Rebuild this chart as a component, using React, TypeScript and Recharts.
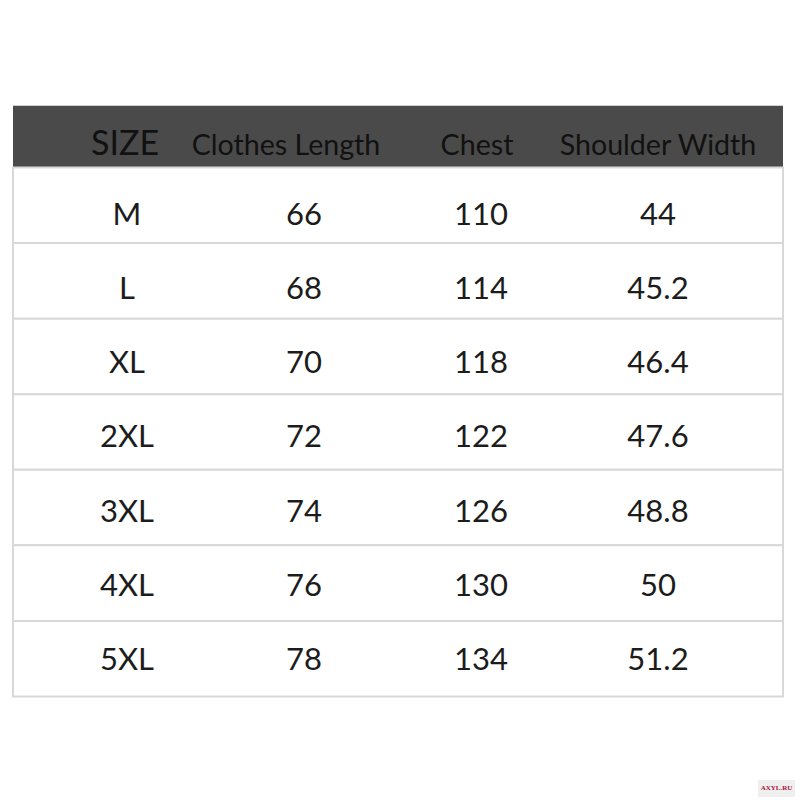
import { ReferenceArea, Scatter, ScatterChart, XAxis, YAxis } from 'recharts'

const headers = ['SIZE', 'Clothes Length', 'Chest', 'Shoulder Width']
const sizes = ['M', 'L', 'XL', '2XL', '3XL', '4XL', '5XL']
const clothesLength = [66, 68, 70, 72, 74, 76, 78]
const chest = [110, 114, 118, 122, 126, 130, 134]
const shoulderWidth = [44, 45.2, 46.4, 47.6, 48.8, 50, 51.2]

// layout in page pixels
const W = 800
const H = 800
const COL0 = 127
const COL_W = 177
const ROW0 = 205.3
const ROW_H = 75.57
const LEFT = 13
const RIGHT = 783
const HEADER_TOP = 105.7
const headerShift = [-2, -18, -4, 0]
const headerSize = [34, 28.6, 28.6, 28.6]
// the text sits a little low in the top rows and centred in the last one
const textDrop = (row: number) => 19.3 - row * 1.32

const toX = (px: number) => (px - COL0) / COL_W
const toY = (px: number) => (px - ROW0) / ROW_H

const xDomain = [toX(0), toX(W)]
const yDomain = [toY(0), toY(H)]
const headerTop = toY(HEADER_TOP)
const headerMid = (headerTop - 0.5) / 2

const columns = [sizes, clothesLength, chest, shoulderWidth]
const cells = columns.flatMap((col, c) =>
  col.map((v, r) => ({ x: c, y: r, label: String(v) })),
)
const headerCells = headers.map((h, c) => ({ x: c, y: headerMid, label: h, col: c }))

const font = 'Lato, "Open Sans", sans-serif'

function CellText(props: any) {
  const { cx, cy, payload } = props
  return (
    <text
      x={cx}
      y={cy + textDrop(payload.y)}
      textAnchor="middle"
      fontFamily={font}
      fontSize={31}
      fill="#1c1c1c"
    >
      {payload.label}
    </text>
  )
}

function HeaderText(props: any) {
  const { cx, cy, payload } = props
  return (
    <text
      x={cx + headerShift[payload.col]}
      y={cy + 18}
      textAnchor="middle"
      fontFamily={font}
      fontSize={headerSize[payload.col]}
      fill="#111111"
    >
      {payload.label}
    </text>
  )
}

export default function App() {
  return (
    <div style={{ position: 'absolute', left: 0, top: 0, width: W, height: H, background: '#ffffff' }}>
      <ScatterChart width={W} height={H} margin={{ top: 0, right: 0, bottom: 0, left: 0 }}>
        <XAxis type="number" dataKey="x" domain={xDomain} hide allowDataOverflow />
        <YAxis type="number" dataKey="y" domain={yDomain} reversed hide allowDataOverflow />
        <ReferenceArea
          x1={toX(LEFT)}
          x2={toX(RIGHT)}
          y1={headerTop}
          y2={-0.5}
          fill="#4a4a4a"
          fillOpacity={1}
          stroke="none"
        />
        {sizes.map((s, r) => (
          <ReferenceArea
            key={s}
            x1={toX(LEFT)}
            x2={toX(RIGHT)}
            y1={r - 0.5}
            y2={r + 0.5}
            fill="#ffffff"
            fillOpacity={1}
            stroke="#d8d8d8"
            strokeWidth={2}
          />
        ))}
        <Scatter data={headerCells} shape={HeaderText} isAnimationActive={false} />
        <Scatter data={cells} shape={CellText} isAnimationActive={false} />
      </ScatterChart>
      <div
        style={{
          position: 'absolute',
          left: 758,
          top: 780,
          width: 37,
          height: 17,
          background: '#efefef',
          color: '#a8123e',
          fontFamily: '"Liberation Serif", serif',
          fontSize: 7,
          fontWeight: 'bold',
          lineHeight: '17px',
          textAlign: 'center',
        }}
      >
        AXYL.RU
      </div>
    </div>
  )
}
